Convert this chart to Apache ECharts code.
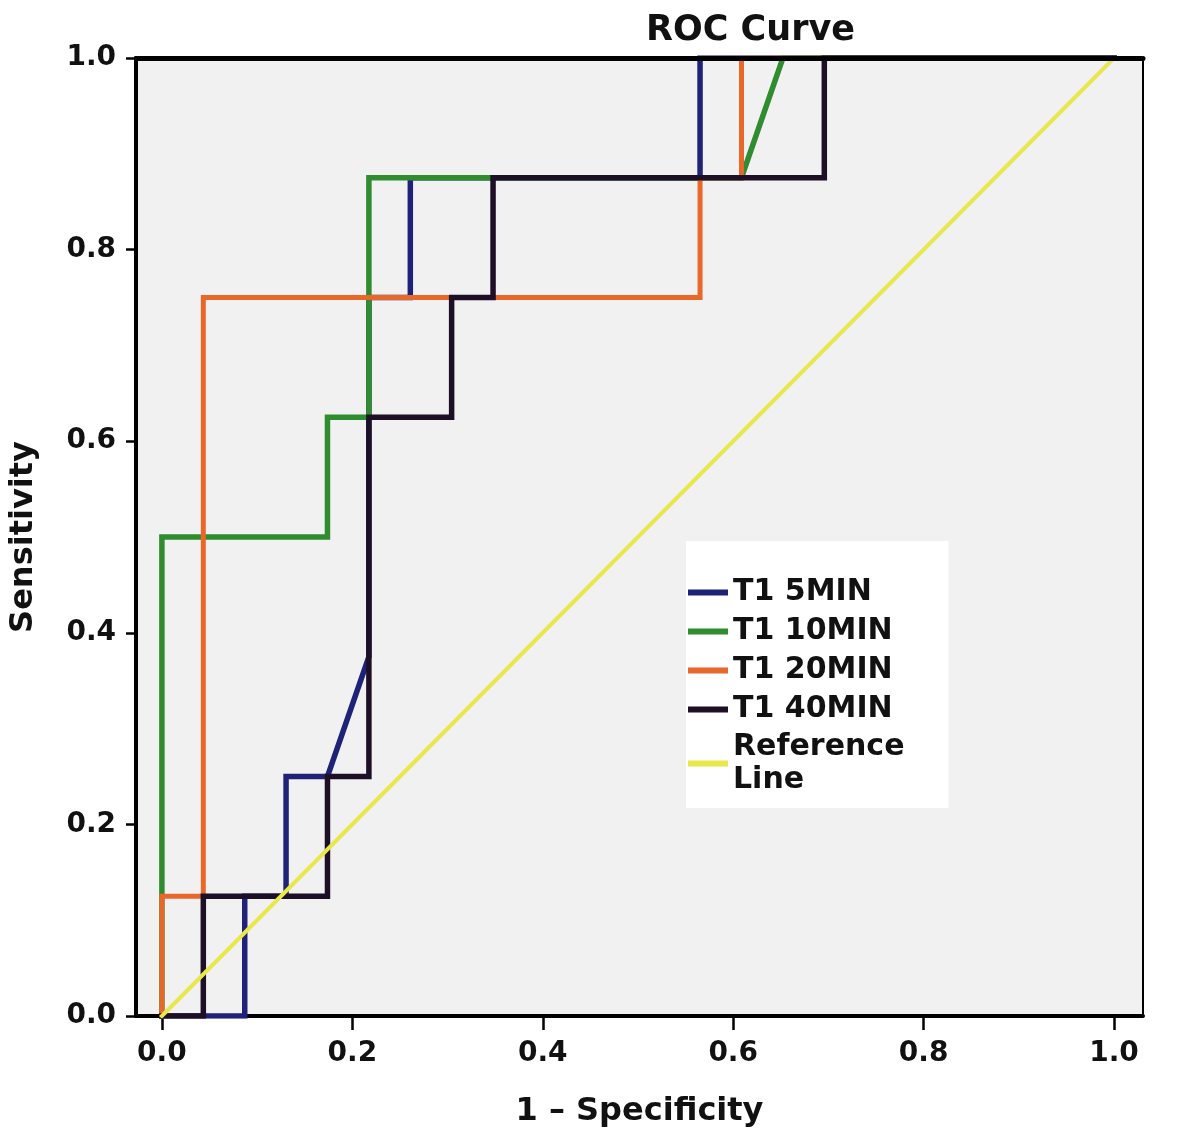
<!DOCTYPE html>
<html>
<head>
<meta charset="utf-8">
<script src="https://cdn.jsdelivr.net/npm/echarts@6/dist/echarts.min.js"></script>
<style>
html,body{margin:0;padding:0;background:#fff;}
#c{width:1200px;height:1147px;}
</style>
</head>
<body>
<div id="c"></div>
<script>
// ---- data ----
var seriesNames = ['T1 5MIN', 'T1 10MIN', 'T1 20MIN', 'T1 40MIN', 'Reference Line'];
var t1_5min = [[0,0],[0.087,0],[0.087,0.125],[0.1304,0.125],[0.1304,0.25],[0.1739,0.25],[0.2174,0.375],[0.2174,0.75],[0.2609,0.75],[0.2609,0.875],[0.5652,0.875],[0.5652,1],[1,1]];
var t1_10min = [[0,0],[0,0.5],[0.1739,0.5],[0.1739,0.625],[0.2174,0.625],[0.2174,0.875],[0.6087,0.875],[0.6522,1],[1,1]];
var t1_20min = [[0,0],[0,0.125],[0.0435,0.125],[0.0435,0.75],[0.5652,0.75],[0.5652,0.875],[0.6087,0.875],[0.6087,1],[1,1]];
var t1_40min = [[0,0],[0.0435,0],[0.0435,0.125],[0.1739,0.125],[0.1739,0.25],[0.2174,0.25],[0.2174,0.625],[0.3043,0.625],[0.3043,0.75],[0.3478,0.75],[0.3478,0.875],[0.6957,0.875],[0.6957,1],[1,1]];
var referenceLine = [[0,0],[1,1]];
var tickValues = [0, 0.2, 0.4, 0.6, 0.8, 1.0];
var colors = ['#1f2378', '#2f8c2f', '#e8682a', '#1c0f26', '#e8e84c'];
var widths = [5.5, 5.5, 5, 5.5, 4];
var seriesData = [t1_5min, t1_10min, t1_20min, t1_40min, referenceLine];

var FONT = 'DejaVu Sans';
var chart = echarts.init(document.getElementById('c'), null, {renderer: 'canvas'});
var series = seriesData.map(function (d, i) {
  return {
    name: seriesNames[i],
    type: 'line',
    data: d,
    symbol: 'none',
    color: colors[i],
    lineStyle: {color: colors[i], width: widths[i], cap: 'square', join: 'miter'},
    emphasis: {disabled: true},
    animation: false
  };
});

chart.setOption({
  backgroundColor: '#ffffff',
  animation: false,
  title: {
    text: 'ROC Curve',
    left: 641,
    top: 8,
    textStyle: {fontFamily: FONT, fontWeight: 'bold', fontSize: 35, color: '#111'}
  },
  grid: {
    left: 133, right: 57, top: 58, bottom: 131,
    show: true, backgroundColor: '#f1f1f1', borderColor: '#000', borderWidth: 2
  },
  legend: {
    orient: 'vertical',
    left: 686, top: 541,
    backgroundColor: '#ffffff',
    padding: [35, 44, 13, 2],
    itemWidth: 40, itemHeight: 6, itemGap: 6,
    icon: 'rect',
    selectedMode: false,
    textStyle: {fontFamily: FONT, fontWeight: 'bold', fontSize: 30, lineHeight: 33, color: '#111'},
    formatter: function (n) { return n === 'Reference Line' ? 'Reference\nLine' : n; },
    data: [
      seriesNames[0], seriesNames[1], seriesNames[2], seriesNames[3],
      {name: seriesNames[4], textStyle: {padding: [0, 0, -33, 0]}}
    ]
  },
  xAxis: [{
    type: 'value',
    min: -0.0272, max: 1.0304,
    position: 'bottom',
    name: '1 \u2013 Specificity',
    nameLocation: 'middle',
    nameGap: 80,
    nameTextStyle: {fontFamily: FONT, fontWeight: 'bold', fontSize: 32, color: '#111'},
    axisLine: {show: true, onZero: false, lineStyle: {color: '#000', width: 4}},
    axisTick: {show: true, length: 14, lineStyle: {color: '#000', width: 2.5}, customValues: tickValues},
    axisLabel: {
      show: true, margin: 24, customValues: tickValues,
      fontFamily: FONT, fontWeight: 'bold', fontSize: 28, color: '#111',
      formatter: function (v) { return v.toFixed(1); }
    },
    splitLine: {show: false}
  }, {
    type: 'value',
    min: -0.0272, max: 1.0304,
    position: 'top',
    z: 10,
    axisLine: {show: true, onZero: false, lineStyle: {color: '#000', width: 5}},
    axisTick: {show: false},
    axisLabel: {show: false},
    splitLine: {show: false}
  }],
  yAxis: {
    type: 'value',
    min: 0, max: 1, interval: 0.2,
    name: 'Sensitivity',
    nameLocation: 'middle',
    nameGap: 96,
    nameTextStyle: {fontFamily: FONT, fontWeight: 'bold', fontSize: 32, color: '#111'},
    axisLine: {show: true, onZero: false, lineStyle: {color: '#000', width: 4}},
    axisTick: {show: true, length: 10, lineStyle: {color: '#000', width: 2.5}},
    axisLabel: {
      margin: 20, fontFamily: FONT, fontWeight: 'bold', fontSize: 28, color: '#111',
      formatter: function (v) { return v.toFixed(1); }
    },
    splitLine: {show: false}
  },
  series: series
});
</script>
</body>
</html>
